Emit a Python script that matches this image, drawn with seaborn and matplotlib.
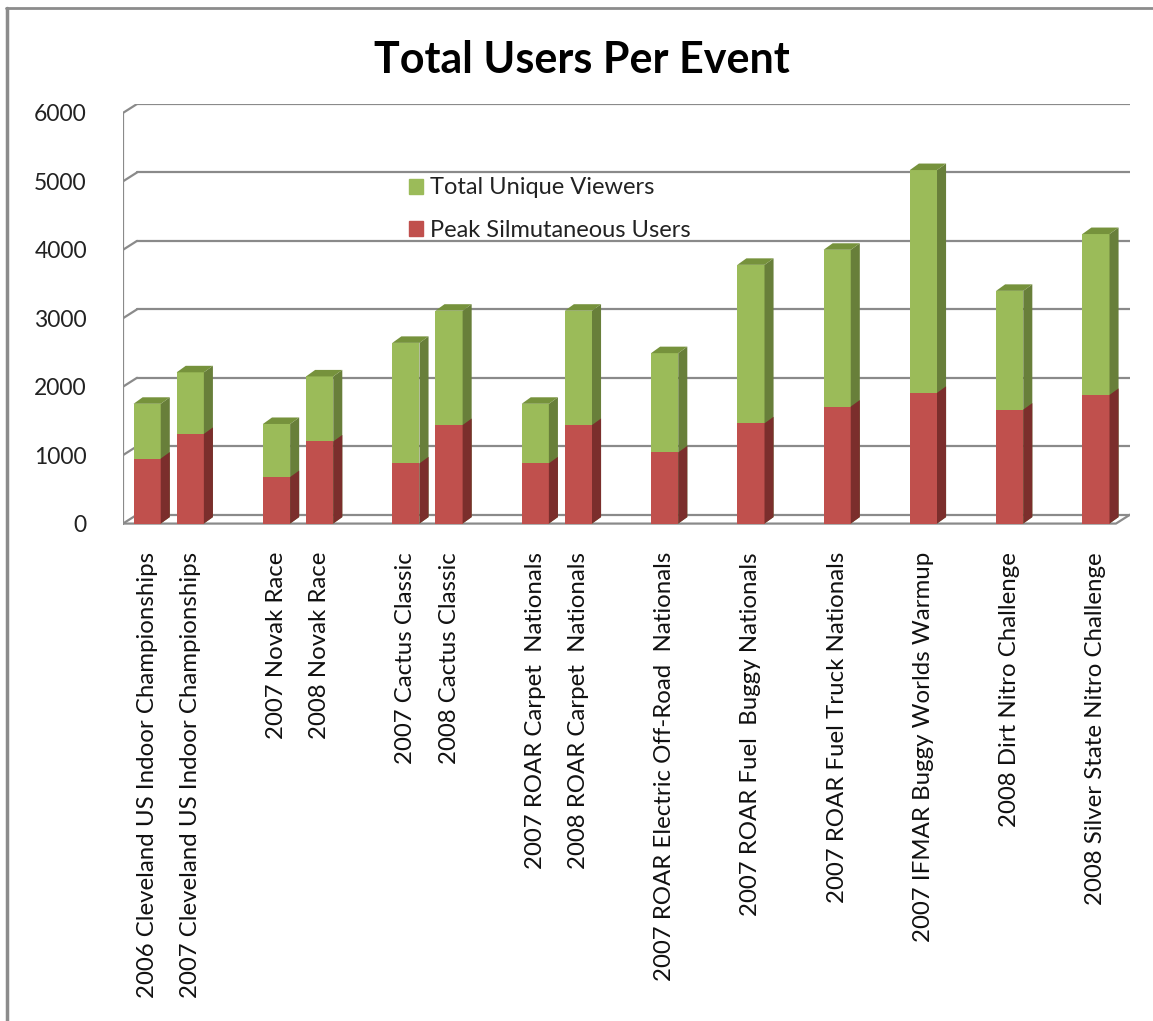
import numpy as np
import pandas as pd
import matplotlib
matplotlib.use("Agg")
import matplotlib.pyplot as plt
import seaborn as sns
from matplotlib.patches import Polygon, Patch
from matplotlib.lines import Line2D

# Data
groups = [
    ["2006 Cleveland US Indoor Championships", "2007 Cleveland US Indoor Championships"],
    ["2007 Novak Race", "2008 Novak Race"],
    ["2007 Cactus Classic", "2008 Cactus Classic"],
    ["2007 ROAR Carpet  Nationals", "2008 ROAR Carpet  Nationals"],
    ["2007 ROAR Electric Off-Road  Nationals"],
    ["2007 ROAR Fuel  Buggy Nationals"],
    ["2007 ROAR Fuel Truck Nationals"],
    ["2007 IFMAR Buggy Worlds Warmup"],
    ["2008 Dirt Nitro Challenge"],
    ["2008 Silver State Nitro Challenge"],
]
peak_users = [950, 1310, 680, 1200, 880, 1440, 880, 1440, 1040, 1465, 1710, 1910, 1665, 1880]
unique_viewers = [800, 900, 775, 950, 1760, 1670, 870, 1670, 1450, 2315, 2290, 3255, 1735, 2350]
yticks = [0, 1000, 2000, 3000, 4000, 5000, 6000]

events = [e for g in groups for e in g]
df = pd.DataFrame({"event": events, "peak": peak_users, "unique": unique_viewers})
df["total"] = df["peak"] + df["unique"]

# category order with blank spacer slots between groups
order = []
for i, g in enumerate(groups):
    order += g
    if i < len(groups) - 1:
        order.append(" " * (i + 1))

green, green_side, green_top = "#9BBB59", "#687F3A", "#76923C"
red, red_side = "#C0504D", "#7B2E2C"
grid_c = "#8A8A8A"

sns.set_theme(style="white")
plt.rcParams["font.family"] = ["Lato", "DejaVu Sans"]

W, H = 1153, 1021
fig = plt.figure(figsize=(W / 100, H / 100), dpi=100)
ax = fig.add_axes([123 / W, 1 - 527 / H, (1130 - 123) / W, (527 - 104) / H])

# 3D depth (category units, data units)
wall_dx, wall_dy = 0.325, 130
bar_dx, bar_dy = 0.21, 95
xmin, xmax = -0.56, 22.79
x_front_right = xmax - wall_dx

# back wall gridlines + left wall
for v in yticks:
    ax.plot([xmin + wall_dx, xmax], [v + wall_dy, v + wall_dy], color=grid_c, lw=1.6, zorder=1)
    ax.plot([xmin, xmin + wall_dx], [v, v + wall_dy], color=grid_c, lw=1.6, zorder=1)
ax.plot([xmin, xmin], [0, yticks[-1]], color=grid_c, lw=1.6, zorder=1)
# floor
ax.plot([xmin, x_front_right, xmax], [0, 0, wall_dy], color=grid_c, lw=1.6, zorder=2)

sns.barplot(data=df, x="event", y="total", order=order, color=green, saturation=1,
            width=0.63, errorbar=None, linewidth=0, ax=ax, zorder=3)
n_green = len(ax.patches)
sns.barplot(data=df, x="event", y="peak", order=order, color=red, saturation=1,
            width=0.63, errorbar=None, linewidth=0, ax=ax, zorder=4)

# side and top faces for the 3D look
for i, p in enumerate(ax.patches):
    if p.get_height() == 0 or np.isnan(p.get_height()):
        continue
    x0, w = p.get_x(), p.get_width()
    y0, y1 = p.get_y(), p.get_y() + p.get_height()
    is_green = i < n_green
    z = 3 if is_green else 4
    side = Polygon([(x0 + w, y0), (x0 + w + bar_dx, y0 + bar_dy),
                    (x0 + w + bar_dx, y1 + bar_dy), (x0 + w, y1)],
                   closed=True, fc=green_side if is_green else red_side, lw=0, zorder=z)
    ax.add_patch(side)
    if is_green:
        top = Polygon([(x0, y1), (x0 + bar_dx, y1 + bar_dy),
                       (x0 + w + bar_dx, y1 + bar_dy), (x0 + w, y1)],
                      closed=True, fc=green_top, lw=0, zorder=z)
        ax.add_patch(top)

ax.set_xlim(xmin, xmax)
ax.set_ylim(-50, yticks[-1] + wall_dy)
ax.set_yticks(yticks)
ax.set_yticklabels([str(v) for v in yticks], fontsize=16.5, color="#222222")
ax.tick_params(axis="y", length=0, pad=26)
ax.tick_params(axis="x", length=0, pad=18)
ax.set_xticks(range(len(order)))
ax.set_xticklabels(order, rotation=90, fontsize=17.3, color="#111111", va="top", ha="center")
ax.set_xlabel("")
ax.set_ylabel("")
sns.despine(ax=ax, left=True, bottom=True)
ax.patch.set_alpha(0)

fig.text(582 / W, 1 - 60 / H, "Total Users Per Event", ha="center", va="center",
         fontsize=31, fontweight="bold", color="black")

handles = [Patch(color=green, label="Total Unique Viewers"),
           Patch(color=red, label="Peak Silmutaneous Users")]
fig.legend(handles=handles, loc="center left", bbox_to_anchor=(388 / W, 1 - 209 / H),
           frameon=False, fontsize=17, handlelength=0.6, handleheight=0.6,
           handletextpad=0.3, labelspacing=0.9, labelcolor="#222222")

# outer frame (top and left edges only)
fig.add_artist(Line2D([6 / W, 1], [1 - 8 / H, 1 - 8 / H], transform=fig.transFigure,
                      color="#8C8C8C", lw=2))
fig.add_artist(Line2D([7 / W, 7 / W], [0, 1 - 8 / H], transform=fig.transFigure,
                      color="#8C8C8C", lw=2.5))

fig.savefig("out.png", dpi=100)
